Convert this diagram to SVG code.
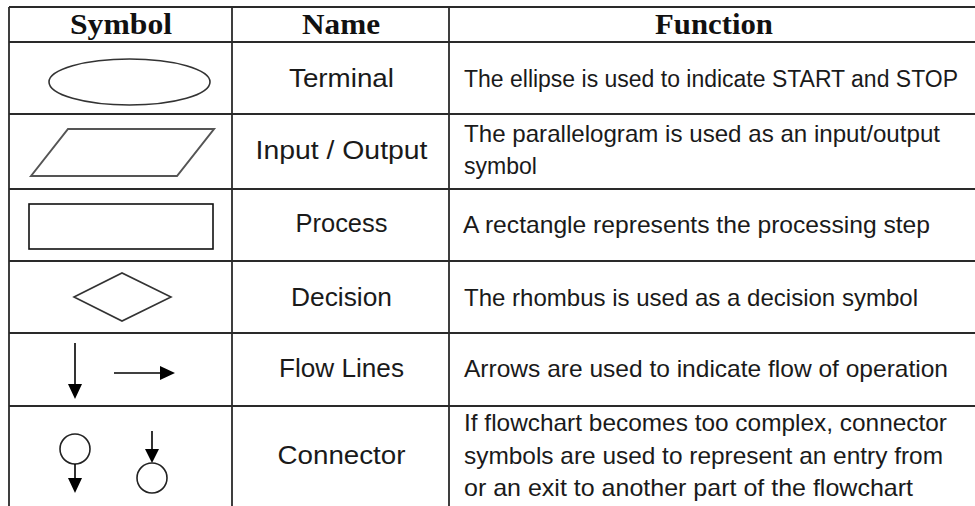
<svg xmlns="http://www.w3.org/2000/svg" width="975" height="506" viewBox="0 0 975 506">
<style>
.grid line{stroke:#2a2a2a;stroke-width:1.8}
.hd{font-family:"Liberation Serif","Times New Roman",serif;font-weight:bold;font-size:30px;fill:#111;text-anchor:middle}
.nm{font-family:"Liberation Sans",Arial,sans-serif;font-size:26px;fill:#1a1a1a;text-anchor:middle}
.fn{font-family:"Liberation Sans",Arial,sans-serif;font-size:24px;fill:#1a1a1a}
.sym{fill:none;stroke:#333;stroke-width:1.6}
.ln{stroke:#000;stroke-width:1.6;fill:none}
.ah{fill:#000}
</style>
<rect width="975" height="506" fill="#fff"/>
<g id="grid" class="grid">
<line x1="9" y1="7" x2="975" y2="7"/>
<line x1="9" y1="42" x2="975" y2="42"/>
<line x1="9" y1="114" x2="975" y2="114"/>
<line x1="9" y1="189" x2="975" y2="189"/>
<line x1="9" y1="261" x2="975" y2="261"/>
<line x1="9" y1="333" x2="975" y2="333"/>
<line x1="9" y1="406" x2="975" y2="406"/>
<line x1="9" y1="7" x2="9" y2="506"/>
<line x1="232" y1="7" x2="232" y2="506"/>
<line x1="449" y1="7" x2="449" y2="506"/>
</g>
<g id="header">
<text class="hd" x="121" y="34" textLength="102" lengthAdjust="spacingAndGlyphs">Symbol</text>
<text class="hd" x="341" y="34" textLength="78" lengthAdjust="spacingAndGlyphs">Name</text>
<text class="hd" x="714" y="34" textLength="118" lengthAdjust="spacingAndGlyphs">Function</text>
</g>
<g id="row-terminal">
<ellipse class="sym" cx="129.5" cy="82" rx="80.5" ry="23"/>
<text class="nm" x="341.5" y="87" textLength="105" lengthAdjust="spacingAndGlyphs">Terminal</text>
<text class="fn" x="464" y="87" style="font-size:23px" textLength="494" lengthAdjust="spacingAndGlyphs">The ellipse is used to indicate START and STOP</text>
</g>
<g id="row-io">
<polygon class="sym" points="31,176 68,129 214,129 177,176" style="stroke:#555;stroke-width:2"/>
<text class="nm" x="341.5" y="159" textLength="172" lengthAdjust="spacingAndGlyphs">Input / Output</text>
<text class="fn" x="464" y="142" textLength="476" lengthAdjust="spacingAndGlyphs">The parallelogram is used as an input/output</text>
<text class="fn" x="464" y="174" textLength="73" lengthAdjust="spacingAndGlyphs">symbol</text>
</g>
<g id="row-process">
<rect class="sym" x="29" y="204" width="184" height="45" style="stroke:#111"/>
<text class="nm" x="341.5" y="232" textLength="92" lengthAdjust="spacingAndGlyphs">Process</text>
<text class="fn" x="463" y="233" textLength="467" lengthAdjust="spacingAndGlyphs">A rectangle represents the processing step</text>
</g>
<g id="row-decision">
<polygon class="sym" points="74,297 122,273 171,297 122,321"/>
<text class="nm" x="341.5" y="306" textLength="101" lengthAdjust="spacingAndGlyphs">Decision</text>
<text class="fn" x="464" y="306" textLength="454" lengthAdjust="spacingAndGlyphs">The rhombus is used as a decision symbol</text>
</g>
<g id="row-flow">
<line class="ln" x1="75" y1="343" x2="75" y2="386"/>
<polygon class="ah" points="68,384 82,384 75,399"/>
<line class="ln" x1="114" y1="373" x2="162" y2="373"/>
<polygon class="ah" points="160,366 160,380 175,373"/>
<text class="nm" x="341.5" y="377" textLength="125" lengthAdjust="spacingAndGlyphs">Flow Lines</text>
<text class="fn" x="464" y="377" textLength="484" lengthAdjust="spacingAndGlyphs">Arrows are used to indicate flow of operation</text>
</g>
<g id="row-connector">
<circle class="sym" cx="75" cy="449" r="15" style="stroke:#222"/>
<line class="ln" x1="75" y1="464" x2="75" y2="480"/>
<polygon class="ah" points="68,478 82,478 75,493"/>
<line class="ln" x1="152" y1="431" x2="152" y2="451"/>
<polygon class="ah" points="145,449 159,449 152,463"/>
<circle class="sym" cx="152" cy="478" r="15" style="stroke:#222"/>
<text class="nm" x="341.5" y="464" textLength="128" lengthAdjust="spacingAndGlyphs">Connector</text>
<text class="fn" x="464" y="431" textLength="483" lengthAdjust="spacingAndGlyphs">If flowchart becomes too complex, connector</text>
<text class="fn" x="464" y="463.5" textLength="479" lengthAdjust="spacingAndGlyphs">symbols are used to represent an entry from</text>
<text class="fn" x="464" y="496" textLength="449" lengthAdjust="spacingAndGlyphs">or an exit to another part of the flowchart</text>
</g>
</svg>
